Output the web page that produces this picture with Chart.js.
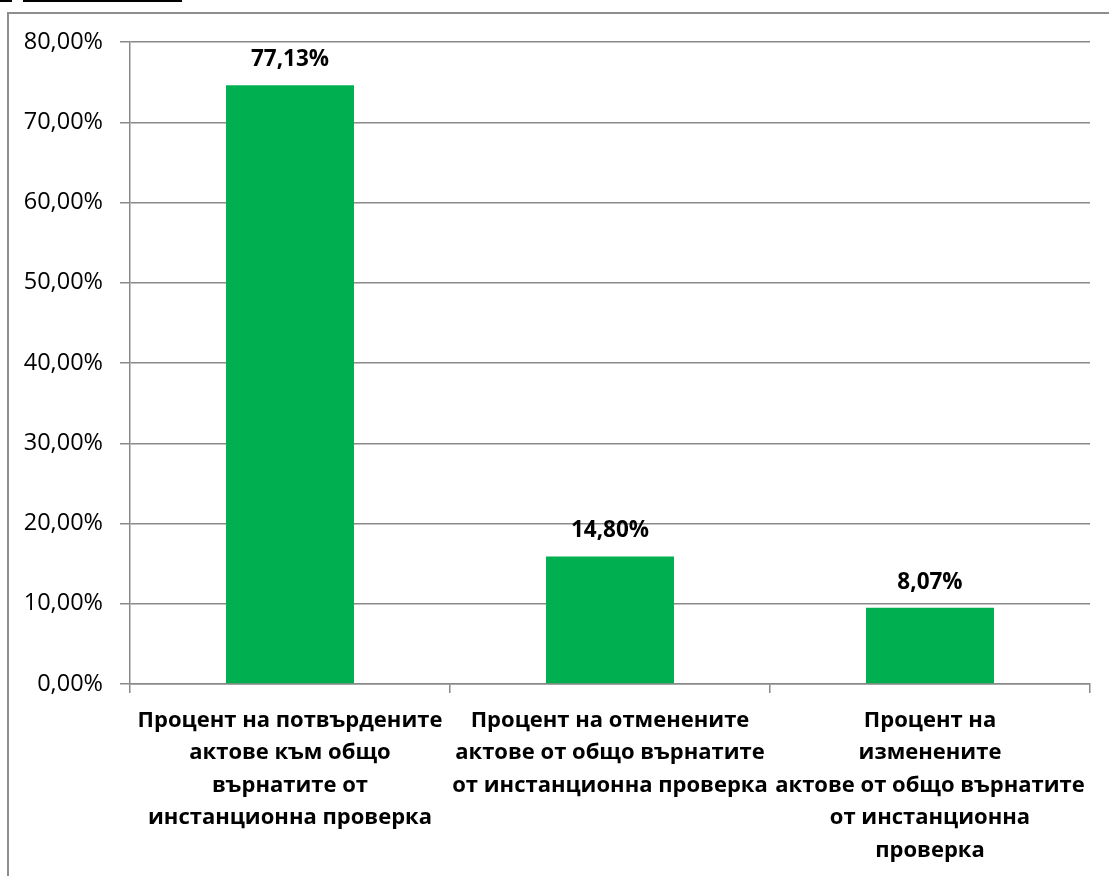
<!DOCTYPE html>
<html>
<head>
<meta charset="utf-8">
<script src="https://cdn.jsdelivr.net/npm/chart.js@4"></script>
<style>
  html, body { margin: 0; padding: 0; background: #fff; }
  body { width: 1109px; height: 876px; position: relative; overflow: hidden; }
  #wrap { position: absolute; left: 0; top: 0; width: 1109px; height: 876px; }
  .frameTop { position: absolute; left: 7px; top: 12px; width: 1102px; height: 2px; background: #8e8e8e; }
  .frameLeft { position: absolute; left: 7px; top: 12px; width: 2px; height: 864px; background: #8e8e8e; }
  .ink1 { position: absolute; left: 0; top: 0; width: 12px; height: 2px; background: #000; }
  .ink2 { position: absolute; left: 23px; top: 0; width: 159px; height: 2px; background: #000; }
</style>
</head>
<body>
<div class="ink1"></div><div class="ink2"></div>
<div class="frameTop"></div><div class="frameLeft"></div>
<div id="wrap"><canvas id="c" width="1109" height="876"></canvas></div>
<script>
const categories = [
  ["Процент на потвърдените", "актове към общо", "върнатите от", "инстанционна проверка"],
  ["Процент на отменените", "актове от общо върнатите", "от инстанционна проверка"],
  ["Процент на", "изменените", "актове от общо върнатите", "от инстанционна", "проверка"]
];
const barValues = [74.6, 15.9, 9.5];
const dataLabels = ["77,13%", "14,80%", "8,07%"];
const yTickMin = 0;
const yTickMax = 80;
const yTickStep = 10;

const FONT = "'Open Sans', 'Noto Sans', 'DejaVu Sans', sans-serif";

const valueLabelPlugin = {
  id: 'valueLabels',
  afterDatasetsDraw(chart) {
    const ctx = chart.ctx;
    const meta = chart.getDatasetMeta(0);
    ctx.save();
    ctx.font = "bold 22.5px " + FONT;
    ctx.fillStyle = '#000';
    ctx.textAlign = 'center';
    ctx.textBaseline = 'alphabetic';
    meta.data.forEach((bar, i) => {
      ctx.fillText(dataLabels[i], bar.x, bar.y - 19);
    });
    ctx.restore();
  }
};

new Chart(document.getElementById('c'), {
  type: 'bar',
  data: {
    labels: categories,
    datasets: [{
      data: barValues,
      backgroundColor: '#00B050',
      borderWidth: 0,
      barPercentage: 0.4,
      categoryPercentage: 1.0
    }]
  },
  options: {
    responsive: false,
    animation: false,
    devicePixelRatio: 1,
    layout: { padding: { top: 42, right: 19, left: 0, bottom: 0 } },
    plugins: { legend: { display: false }, tooltip: { enabled: false } },
    scales: {
      x: {
        afterFit(s) { s.height = 192; },
        grid: {
          offset: true,
          drawOnChartArea: false,
          drawTicks: true,
          tickLength: 9,
          color: '#8a8a8a',
          lineWidth: 1.5
        },
        border: { display: true, color: '#8a8a8a', width: 1.5 },
        ticks: {
          maxRotation: 0,
          autoSkip: false,
          padding: 11,
          color: '#000',
          font: { family: FONT, size: 22, weight: 'bold', lineHeight: 1.48 }
        }
      },
      y: {
        min: yTickMin,
        max: yTickMax,
        afterFit(s) { s.width = 130; },
        grid: {
          color: '#8a8a8a',
          lineWidth: 1.5,
          drawTicks: true,
          tickLength: 10
        },
        border: { display: true, color: '#8a8a8a', width: 1.5 },
        ticks: {
          stepSize: yTickStep,
          padding: 17,
          color: '#000',
          font: { family: FONT, size: 23.5 },
          callback: v => v.toFixed(2).replace('.', ',') + '%'
        }
      }
    }
  },
  plugins: [valueLabelPlugin]
});
</script>
</body>
</html>
